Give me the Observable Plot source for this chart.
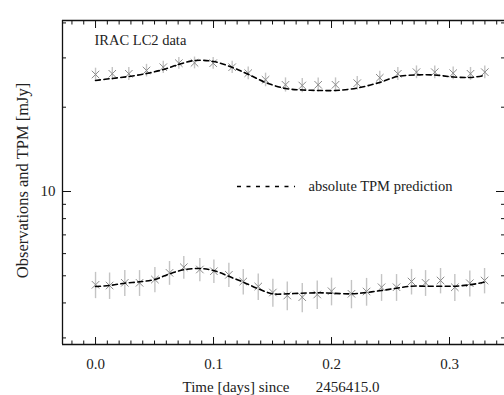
<!DOCTYPE html>
<html>
<head>
<meta charset="utf-8">
<script src="https://cdn.jsdelivr.net/npm/d3@7"></script>
<script src="https://cdn.jsdelivr.net/npm/@observablehq/plot@0.6"></script>
<style>
  html, body { margin: 0; padding: 0; background: #fff; }
  #chart svg { display: block; }
</style>
</head>
<body>
<div id="chart"></div>
<script>
// ---- data ----
const upperTime = [0.0, 0.0142, 0.0282, 0.0432, 0.0574, 0.0706, 0.0839, 0.0997, 0.1158, 0.1294, 0.1441, 0.1610, 0.1752, 0.1887, 0.2034, 0.2218, 0.2409, 0.2562, 0.2720, 0.2875, 0.3031, 0.3178, 0.3299];
const upperFlux = [26.17, 26.33, 26.33, 27.05, 27.79, 28.72, 28.81, 28.72, 27.79, 26.46, 25.06, 24.05, 23.91, 24.05, 24.05, 24.37, 25.47, 26.33, 26.68, 26.68, 26.46, 26.33, 26.68];
const upperErr = 1.4;

const lowerTime = [0.0, 0.0119, 0.0248, 0.0373, 0.0503, 0.0627, 0.0748, 0.0884, 0.1003, 0.1130, 0.1252, 0.1379, 0.1503, 0.1625, 0.1752, 0.1879, 0.2000, 0.2169, 0.2297, 0.2424, 0.2551, 0.2678, 0.2797, 0.2924, 0.3045, 0.3172, 0.3297];
const lowerFlux = [4.643, 4.616, 4.719, 4.719, 4.849, 5.123, 5.365, 5.265, 5.192, 5.040, 4.770, 4.578, 4.358, 4.252, 4.193, 4.287, 4.405, 4.312, 4.394, 4.551, 4.551, 4.770, 4.719, 4.810, 4.551, 4.704, 4.810];
const lowerErr = 0.5;

const upperModelTime = [0.0, 0.0136, 0.028, 0.0432, 0.0576, 0.0703, 0.0839, 0.1, 0.1161, 0.1297, 0.1441, 0.161, 0.1754, 0.189, 0.2034, 0.222, 0.2407, 0.2559, 0.272, 0.2873, 0.3034, 0.3178, 0.3297];
const upperModelFlux = [24.91, 25.32, 25.74, 26.38, 27.27, 28.41, 29.36, 29.12, 27.73, 26.17, 24.51, 23.33, 23.04, 22.95, 22.95, 23.42, 24.51, 25.74, 26.07, 26.07, 25.64, 25.54, 25.96];

const lowerModelTime = [0.0, 0.0119, 0.0246, 0.0373, 0.05, 0.0627, 0.0746, 0.0881, 0.1, 0.1127, 0.1254, 0.1381, 0.15, 0.1627, 0.1746, 0.1881, 0.2, 0.2169, 0.2297, 0.2424, 0.2551, 0.2678, 0.2797, 0.2924, 0.3042, 0.3169, 0.3297];
const lowerModelFlux = [4.578, 4.616, 4.704, 4.759, 4.849, 5.082, 5.253, 5.309, 5.222, 4.982, 4.743, 4.492, 4.312, 4.312, 4.333, 4.347, 4.333, 4.312, 4.358, 4.431, 4.514, 4.590, 4.590, 4.590, 4.590, 4.643, 4.743];

const xDomain = [-0.028, 0.3466];
const yDomain = [2.842, 40.8];
const xMajorTicks = [0.0, 0.1, 0.2, 0.3];
const xMinorTicks = [-0.02, -0.01, 0.01, 0.02, 0.03, 0.04, 0.05, 0.06, 0.07, 0.08, 0.09, 0.11, 0.12, 0.13, 0.14, 0.15, 0.16, 0.17, 0.18, 0.19, 0.21, 0.22, 0.23, 0.24, 0.25, 0.26, 0.27, 0.28, 0.29, 0.31, 0.32, 0.33, 0.34];
const yMajorTicks = [10];
const yMinorTicks = [3, 4, 5, 6, 7, 8, 9, 20, 30, 40];

const xTitle = "Time [days] since\u00a0\u00a0\u00a0\u00a0\u00a0\u00a0\u00a02456415.0";
const yTitle = "Observations and TPM [mJy]";
const dataLabel = "IRAC LC2 data";
const legendLabel = "absolute TPM prediction";
const legendPos = [{x1: 0.1203, x2: 0.1695, xText: 0.1805, y: 10.42}];

// ---- tables ----
const upperObs = upperTime.map((t, i) => ({t, v: upperFlux[i], e: upperErr}));
const lowerObs = lowerTime.map((t, i) => ({t, v: lowerFlux[i], e: lowerErr}));
const upperModel = upperModelTime.map((t, i) => ({t, v: upperModelFlux[i]}));
const lowerModel = lowerModelTime.map((t, i) => ({t, v: lowerModelFlux[i]}));
const obs = upperObs.concat(lowerObs);

const font = "'Liberation Serif', 'Times New Roman', serif";
const axisCol = "#111";

const chart = Plot.plot({
  width: 504,
  height: 395,
  marginLeft: 62,
  marginRight: 0,
  marginTop: 20,
  marginBottom: 51,
  style: {fontFamily: font, background: "#fff"},
  x: {domain: xDomain, axis: null},
  y: {type: "log", domain: yDomain, axis: null},
  marks: [
    // frame (left, top, bottom)
    Plot.ruleX([xDomain[0]], {stroke: axisCol, strokeWidth: 1.3}),
    Plot.ruleY([yDomain[0]], {stroke: axisCol, strokeWidth: 1.3}),
    Plot.ruleY([yDomain[1]], {stroke: axisCol, strokeWidth: 1.3}),
    // inward ticks
    Plot.axisX(xMinorTicks, {anchor: "bottom", tickSize: -3.5, tickFormat: () => "", label: null, stroke: axisCol}),
    Plot.axisX(xMajorTicks, {anchor: "bottom", tickSize: -7, tickFormat: () => "", label: null, stroke: axisCol}),
    Plot.axisX(xMinorTicks, {anchor: "top", tickSize: -3.5, tickFormat: () => "", label: null, stroke: axisCol}),
    Plot.axisX(xMajorTicks, {anchor: "top", tickSize: -7, tickFormat: () => "", label: null, stroke: axisCol}),
    Plot.axisY(yMinorTicks, {anchor: "left", tickSize: -4, tickFormat: () => "", label: null, stroke: axisCol}),
    Plot.axisY(yMajorTicks, {anchor: "left", tickSize: -9, tickFormat: () => "", label: null, stroke: axisCol}),
    Plot.axisY(yMinorTicks, {anchor: "right", tickSize: -4, tickFormat: () => "", label: null, stroke: axisCol}),
    Plot.axisY(yMajorTicks, {anchor: "right", tickSize: -9, tickFormat: () => "", label: null, stroke: axisCol}),
    // tick labels
    Plot.axisX(xMajorTicks, {anchor: "bottom", tickSize: 0, tickPadding: 14, tickFormat: d3.format(".1f"), label: null, fontSize: 15, fill: "#222"}),
    Plot.axisY(yMajorTicks, {anchor: "left", tickSize: 0, tickPadding: 7, tickFormat: d => String(d), label: null, fontSize: 15, fill: "#222"}),
    // error bars
    Plot.ruleX(obs, {x: "t", y1: d => d.v - d.e, y2: d => d.v + d.e, stroke: "#c4c4c4", strokeWidth: 1.4}),
    // markers
    Plot.dot(obs, {x: "t", y: "v", symbol: "times", r: 3.5, stroke: "#8a8a8a", strokeWidth: 1}),
    // model curves
    Plot.line(upperModel, {x: "t", y: "v", curve: "catmull-rom", stroke: "#000", strokeWidth: 1.6, strokeDasharray: "5,3.5"}),
    Plot.line(lowerModel, {x: "t", y: "v", curve: "catmull-rom", stroke: "#000", strokeWidth: 1.6, strokeDasharray: "5,3.5"}),
    // legend
    Plot.ruleY(legendPos, {y: "y", x1: "x1", x2: "x2", stroke: "#000", strokeWidth: 1.4, strokeDasharray: "4,5.5"}),
    Plot.text(legendPos, {x: "xText", y: "y", text: () => legendLabel, textAnchor: "start", fontSize: 14.5, fill: "#222"}),
    // annotations
    Plot.text([dataLabel], {frameAnchor: "top-left", dx: 32, dy: 20, textAnchor: "start", lineAnchor: "middle", fontSize: 14.5, fill: "#222"}),
    Plot.text([xTitle], {frameAnchor: "bottom", dx: -2.5, dy: 43, textAnchor: "middle", lineAnchor: "middle", fontSize: 15, fill: "#222"}),
    Plot.text([yTitle], {frameAnchor: "left", dx: -40, dy: -2, rotate: -90, textAnchor: "middle", lineAnchor: "middle", fontSize: 16.5, fill: "#222"})
  ]
});
document.getElementById("chart").appendChild(chart);
</script>
</body>
</html>
